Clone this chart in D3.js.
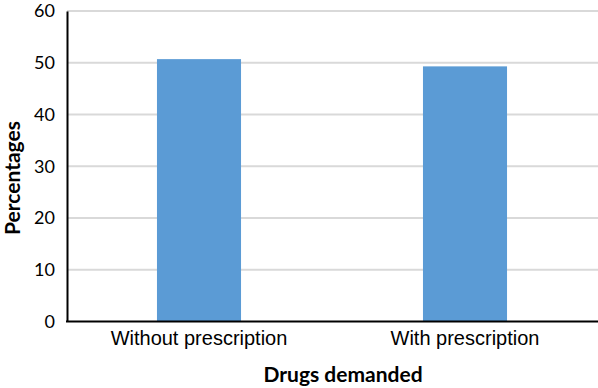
<!DOCTYPE html>
<html><head><meta charset="utf-8">
<script src="https://cdn.jsdelivr.net/npm/d3@7"></script>
<style>body{margin:0;background:#fff}</style>
</head><body>
<svg id="c" width="598" height="388"></svg>
<script>
const categories = ["Without prescription", "With prescription"];
const values = [50.7, 49.3];
const yTicks = [0, 10, 20, 30, 40, 50, 60];
const xTitle = "Drugs demanded";
const yTitle = "Percentages";

(function () {
const svg = d3.select("#c");
const mLeft = 67, mRight = 598, mTop = 11, mBottom = 321.5;
const x = d3.scaleBand().domain(categories).range([mLeft - 1, mRight]).paddingInner(0.684).paddingOuter(0.342);
const y = d3.scaleLinear().domain([0, 60]).range([mBottom, mTop]);

// gridlines
svg.append("g").selectAll("line").data(yTicks.filter(d => d > 0)).join("line")
  .attr("x1", mLeft).attr("x2", mRight)
  .attr("y1", d => y(d)).attr("y2", d => y(d))
  .attr("stroke", "#d9d9d9").attr("stroke-width", 2);

// bars
svg.append("g").selectAll("rect").data(values).join("rect")
  .attr("x", (d, i) => x(categories[i]))
  .attr("width", x.bandwidth())
  .attr("y", d => y(d))
  .attr("height", d => y(0) - y(d))
  .attr("fill", "#5b9bd5");

// y axis
const ya = svg.append("g").attr("transform", `translate(${mLeft},0)`)
  .call(d3.axisLeft(y).tickValues(yTicks).tickSize(0).tickPadding(12));
ya.select(".domain").attr("stroke", "#000").attr("stroke-width", 2);
ya.selectAll("text").style("font-family", "Lato, 'Open Sans', sans-serif").style("font-size", "18px").attr("fill", "#000");

// x axis
const xa = svg.append("g").attr("transform", `translate(0,${mBottom})`)
  .call(d3.axisBottom(x).tickSize(0).tickPadding(9));
xa.select(".domain").attr("stroke", "#000").attr("stroke-width", 2).attr("d", `M${mLeft-1},0H${mRight}`);
xa.selectAll("text").style("font-family", "'Liberation Sans', Arial, sans-serif").style("font-size", "20px").attr("fill", "#000");

// titles
svg.append("text").attr("x", 343).attr("y", 382).attr("text-anchor", "middle")
  .style("font-family", "Lato, 'Open Sans', sans-serif").style("font-weight", "bold").style("font-size", "21px")
  .text(xTitle);
svg.append("text").attr("transform", "translate(20,178) rotate(-90)").attr("text-anchor", "middle")
  .style("font-family", "Lato, 'Open Sans', sans-serif").style("font-weight", "bold").style("font-size", "21px")
  .text(yTitle);
})();
</script>
</body></html>
